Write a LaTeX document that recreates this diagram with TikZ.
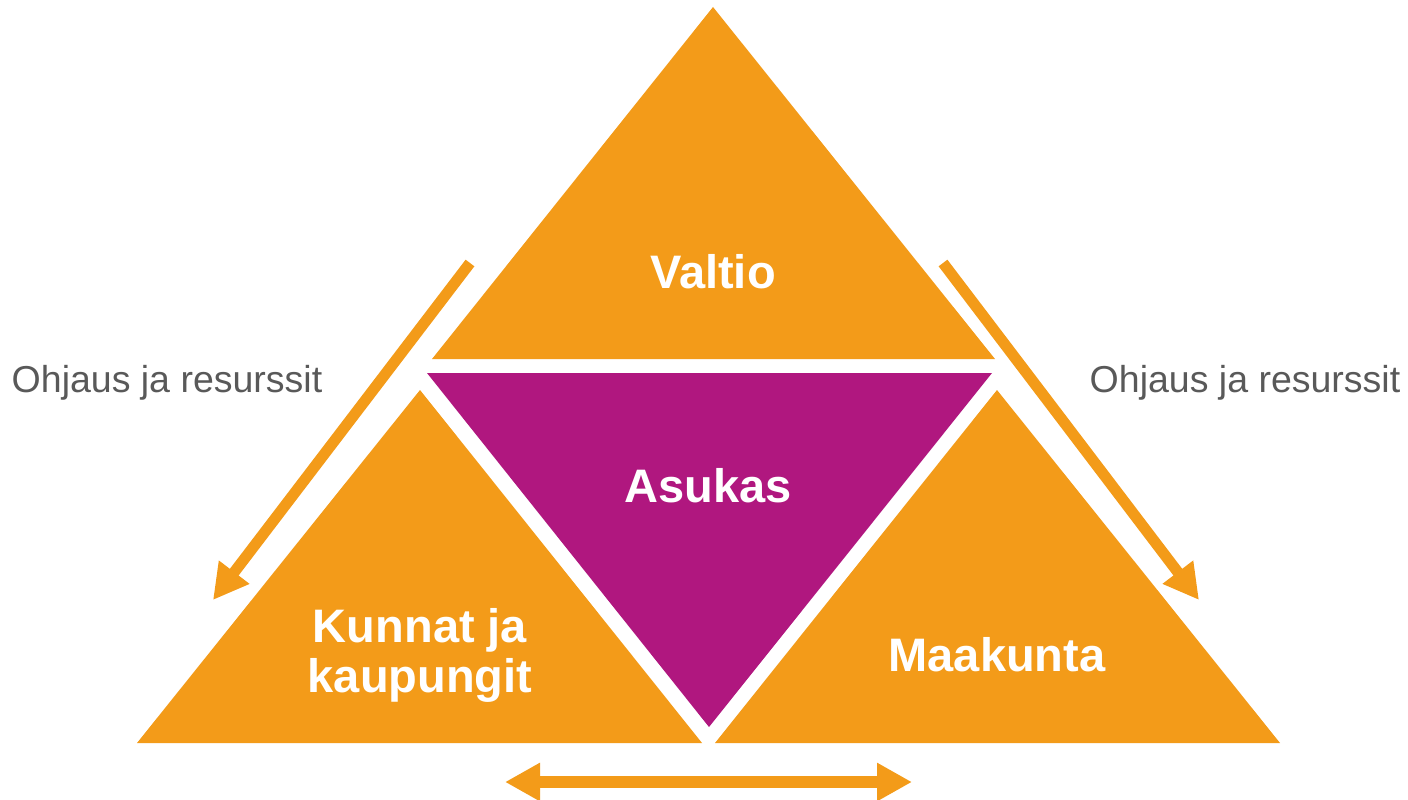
\documentclass[tikz,border=0pt]{standalone}
\usepackage{fontspec}
\setmainfont{Liberation Sans}
\usetikzlibrary{arrows.meta}
\definecolor{morange}{HTML}{F39B19}
\definecolor{mmag}{HTML}{B0177F}
\definecolor{mgray}{HTML}{595959}
\tikzstyle{region} = [fill = morange]
\tikzstyle{resident} = [fill = mmag]
\tikzstyle{txt} = [text = white, align = center, font = \bfseries\fontsize{47}{50}\selectfont]
\tikzstyle{note} = [text = mgray, font = \fontsize{37.5}{42}\selectfont]
\tikzstyle{flow} = [draw = morange, line width = 11pt, >={Triangle[length=35pt, width=36pt]}, ->]

\begin{document}
\begin{tikzpicture}[x=1pt, y=-1pt]
  \useasboundingbox (0,0) rectangle (1408,800);
  \fill [region] (713,7) -- (432,359) -- (995,359) -- cycle;
  \fill [resident] (427,373) -- (992,373) -- (709,727) -- cycle;
  \fill [region] (420,390) -- (137,743) -- (702,743) -- cycle;
  \fill [region] (997,390) -- (715,743) -- (1280,743) -- cycle;
  \node (valtio) [txt] at (713,272) {Valtio};
  \node (asukas) [txt] at (708,486) {Asukas};
  \node (kunnat) [txt] at (420,655) {Kunnat ja\\kaupungit};
  \node (maakunta) [txt] at (997,655) {Maakunta};
  \node (ohjl) [note] at (167,383) {Ohjaus ja resurssit};
  \node (ohjr) [note] at (1245,383) {Ohjaus ja resurssit};
  \coordinate (ls) at (470,263);
  \coordinate (le) at (213,600);
  \coordinate (rs) at (943,263);
  \coordinate (re) at (1199,600);
  \coordinate (bl) at (505,782);
  \coordinate (br) at (912,782);
  \draw [flow] (ls) -- (le);
  \draw [flow] (rs) -- (re);
  \draw [flow, line width = 12pt, <->] (bl) -- (br);
\end{tikzpicture}
\end{document}
